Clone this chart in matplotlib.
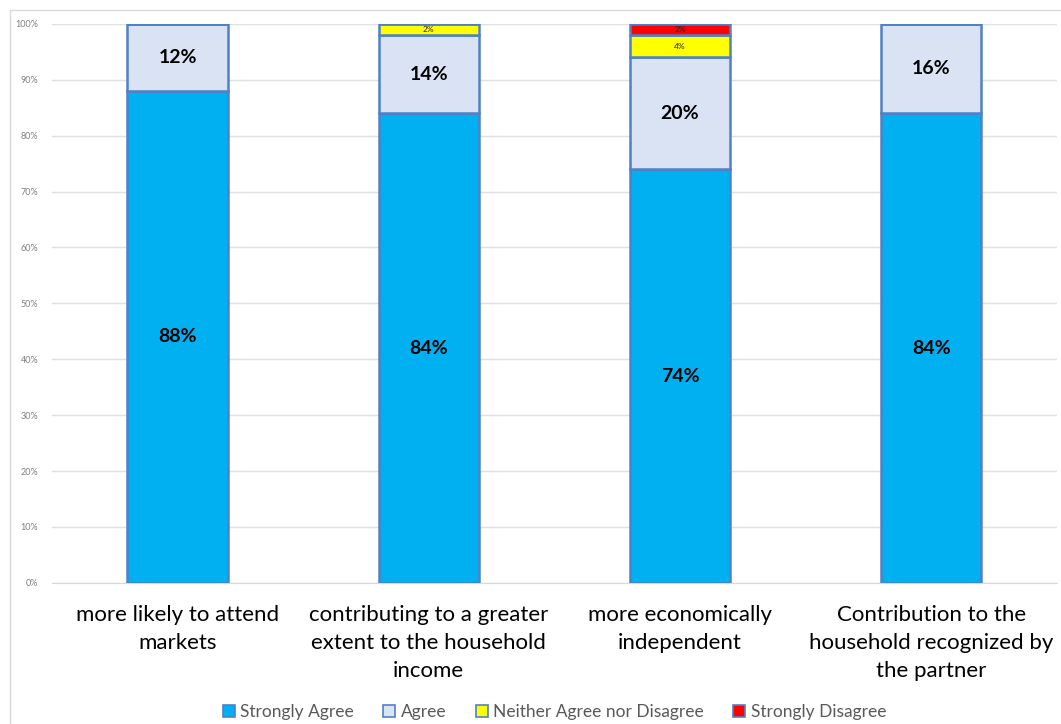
import numpy as np
import matplotlib.pyplot as plt
from matplotlib.patches import Rectangle
from matplotlib.ticker import PercentFormatter

plt.rcParams['font.family'] = ['Lato', 'DejaVu Sans']

# categories and response shares (%)
categorias = ['more likely to attend\nmarkets',
              'contributing to a greater\nextent to the household\nincome',
              'more economically\nindependent',
              'Contribution to the\nhousehold recognized by\nthe partner']
respostas = ['Strongly Agree', 'Agree', 'Neither Agree nor Disagree', 'Strongly Disagree']
strongly_agree = [88, 84, 74, 84]
agree = [12, 14, 20, 16]
neither = [0, 2, 4, 0]
strongly_disagree = [0, 0, 2, 0]

cores = ['#00B0F0', '#DAE3F3', '#FFFF00', '#FF0000']
borda = '#4F81C7'

fig = plt.figure(figsize=(10.61, 7.24), dpi=100)
ax = fig.add_axes([0.049, 0.195, 0.947, 0.772])

# light border around the whole chart area
fig.patches.append(Rectangle((0.0095, -0.01), 1.0, 0.996, transform=fig.transFigure,
                             fill=False, edgecolor='#D9D9D9', linewidth=1))

x = np.arange(len(categorias))
base = np.zeros(len(categorias))
series = [strongly_agree, agree, neither, strongly_disagree]
for vals, cor, nome in zip(series, cores, respostas):
  vals = np.array(vals, dtype=float)
  ax.bar(x, vals, 0.4, bottom=base, color=cor, edgecolor=borda, linewidth=1.8,
         label=nome, zorder=3)
  for xi, b, v in zip(x, base, vals):
    if v <= 0:
      continue
    if v >= 10:
      ax.text(xi, b + v / 2, f'{v:.0f}%', ha='center', va='center',
              fontsize=14, fontweight='bold', color='black', zorder=4)
    else:
      ax.text(xi, b + v / 2, f'{v:.0f}%', ha='center', va='center',
              fontsize=6, color='#222222', zorder=4)
  base = base + vals

ax.set_xlim(-0.5, 3.5)
ax.set_ylim(0, 100)
ax.set_yticks(np.arange(0, 101, 10))
ax.yaxis.set_major_formatter(PercentFormatter(decimals=0))
ax.tick_params(axis='y', length=0, labelsize=6.5, labelcolor='#7F7F7F', pad=10)
ax.set_xticks(x)
ax.set_xticklabels(categorias, fontsize=16, linespacing=1.5)
ax.tick_params(axis='x', length=0, pad=16)
ax.grid(axis='y', color='#E0E0E0', linewidth=1, zorder=0)
for s in ['top', 'right', 'left']:
  ax.spines[s].set_visible(False)
ax.spines['bottom'].set_color('#D9D9D9')

leg = ax.legend(loc='lower center', bbox_to_anchor=(0.5, -0.274), ncol=4, frameon=False,
                fontsize=12.5, handlelength=0.7, handleheight=0.7, handletextpad=0.3,
                columnspacing=1.7, labelcolor='#595959')
for h in leg.legend_handles:
  h.set_edgecolor(borda)
  h.set_linewidth(1.2)

fig.savefig('out.png', dpi=100)
